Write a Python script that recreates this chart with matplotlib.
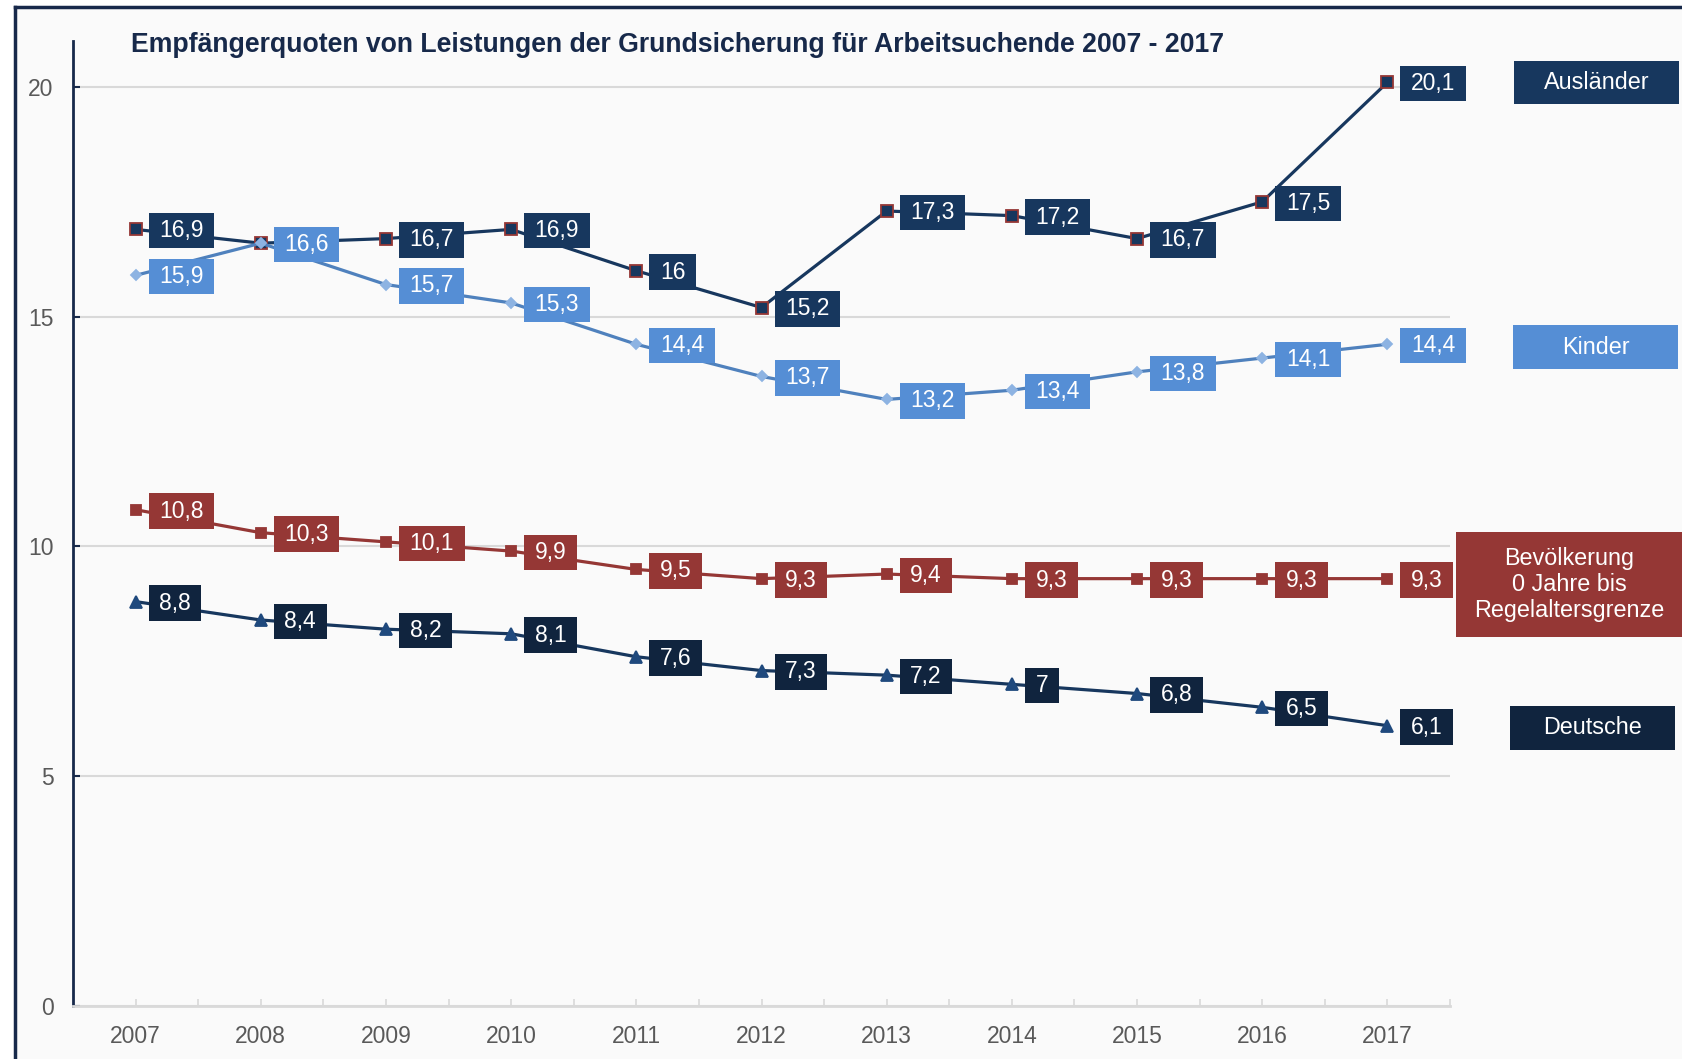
import numpy as np
import matplotlib
matplotlib.use("Agg")
import matplotlib.pyplot as plt
from matplotlib.patches import Rectangle
from matplotlib.lines import Line2D
from matplotlib.path import Path

plt.rcParams['font.family'] = ['Liberation Sans', 'DejaVu Sans']

# data
years = [2007, 2008, 2009, 2010, 2011, 2012, 2013, 2014, 2015, 2016, 2017]
auslaender = [16.9, 16.6, 16.7, 16.9, 16.0, 15.2, 17.3, 17.2, 16.7, 17.5, 20.1]
kinder = [15.9, 16.6, 15.7, 15.3, 14.4, 13.7, 13.2, 13.4, 13.8, 14.1, 14.4]
bevoelkerung = [10.8, 10.3, 10.1, 9.9, 9.5, 9.3, 9.4, 9.3, 9.3, 9.3, 9.3]
deutsche = [8.8, 8.4, 8.2, 8.1, 7.6, 7.3, 7.2, 7.0, 6.8, 6.5, 6.1]
y_ticks = [0, 5, 10, 15, 20]
title = "Empfängerquoten von Leistungen der Grundsicherung für Arbeitsuchende 2007 - 2017"

W, H = 1682, 1059
fig = plt.figure(figsize=(W / 100, H / 100), dpi=100)
fig.patch.set_facecolor("white")

# light frame with dark left/top border
fig.patches.append(Rectangle((15 / W, 0), 1, 1 - 7 / H, transform=fig.transFigure,
                             facecolor="#fafafa", edgecolor="none", zorder=-5))
fig.lines.append(Line2D([15 / W, 15 / W], [0, 1 - 7 / H], transform=fig.transFigure,
                        color="#17294a", lw=2.5, zorder=-4))
fig.lines.append(Line2D([15 / W, 1], [1 - 7 / H, 1 - 7 / H], transform=fig.transFigure,
                        color="#17294a", lw=2.5, zorder=-4))

ax = fig.add_axes([73 / W, 53 / H, (1450 - 73) / W, (1018 - 53) / H])
ax.set_facecolor("none")
ax.set_zorder(1)

x = np.arange(len(years))


# label box: wider padding left/right than top/bottom
def label_box(x0, y0, width, height, mutation_size):
    px = 0.46 * mutation_size
    py = 0.27 * mutation_size
    x0, y0 = x0 - px, y0 - py
    x1, y1 = x0 + width + 2 * px, y0 + height + 2 * py
    return Path([(x0, y0), (x1, y0), (x1, y1), (x0, y1), (x0, y0)], closed=True)


# series: (values, line colour, marker, marker face, marker edge, marker size, label colour)
series = [
    (deutsche, "#17375e", "^", "#1f497d", "#1f497d", 9, "#10243e"),
    (bevoelkerung, "#953735", "s", "#953735", "#953735", 7.5, "#953735"),
    (auslaender, "#17375e", "s", "#17375e", "#953735", 9, "#17375e"),
    (kinder, "#4f81bd", "D", "#8db3e2", "#8db3e2", 5.5, "#558ed5"),
]

for i, (vals, lc, mk, mfc, mec, ms, bc) in enumerate(series):
    ax.plot(x, vals, color=lc, lw=2.3, marker=mk, markersize=ms,
            markerfacecolor=mfc, markeredgecolor=mec, markeredgewidth=1.3,
            zorder=3 + i * 0.1)

for i, (vals, lc, mk, mfc, mec, ms, bc) in enumerate(series):
    for xi, v in zip(x, vals):
        txt = f"{v:g}".replace(".", ",")
        ax.annotate(txt, (xi, v), xytext=(17, -1), textcoords="offset points",
                    ha="left", va="center", fontsize=16.5, color="white",
                    bbox=dict(boxstyle=label_box, fc=bc, ec="none"),
                    zorder=10 + i)

ax.set_xlim(-0.5, len(years) - 0.5)
ax.set_ylim(0, 21)
ax.set_yticks(y_ticks)
ax.set_yticklabels([str(t) for t in y_ticks])
ax.set_xticks(x)
ax.set_xticklabels([str(y) for y in years])
ax.set_xticks(np.arange(0.5, len(years), 1.0), minor=True)

ax.grid(axis="y", color="#d9d9d9", lw=1.5, zorder=1)
ax.set_axisbelow(True)

for s in ["top", "right"]:
    ax.spines[s].set_visible(False)
ax.spines["left"].set_color("#17294a")
ax.spines["left"].set_linewidth(2)
ax.spines["bottom"].set_color("#d9d9d9")
ax.spines["bottom"].set_linewidth(2)

ax.tick_params(axis="x", which="both", direction="in", length=5, width=1.2,
               color="#d9d9d9", labelsize=16.5, labelcolor="#595959", pad=13.5)
ax.tick_params(axis="y", direction="in", length=5, width=1.5, color="#17294a",
               labelsize=16.5, labelcolor="#595959", pad=14)

fig.text(131 / W, 1 - 45 / H, title, fontsize=19.2, fontweight="bold",
         color="#17294a", ha="left", va="center")

# legend boxes on the right
legend = [
    ("Ausländer", "#17375e", 1514, 61, 1679, 104),
    ("Kinder", "#558ed5", 1513, 325, 1678, 369),
    ("Bevölkerung\n0 Jahre bis\nRegelaltersgrenze", "#953735", 1456, 532, 1682, 637),
    ("Deutsche", "#10243e", 1510, 706, 1675, 750),
]
for label, col, x0, y0, x1, y1 in legend:
    fig.patches.append(Rectangle((x0 / W, 1 - y1 / H), (x1 - x0) / W, (y1 - y0) / H,
                                 transform=fig.transFigure, facecolor=col,
                                 edgecolor="none", zorder=2))
    fig.text((x0 + x1) / 2 / W, 1 - (y0 + y1) / 2 / H, label, fontsize=16.8,
             color="white", ha="center", va="center", linespacing=1.18, zorder=3)

fig.savefig("out.png", dpi=100)
